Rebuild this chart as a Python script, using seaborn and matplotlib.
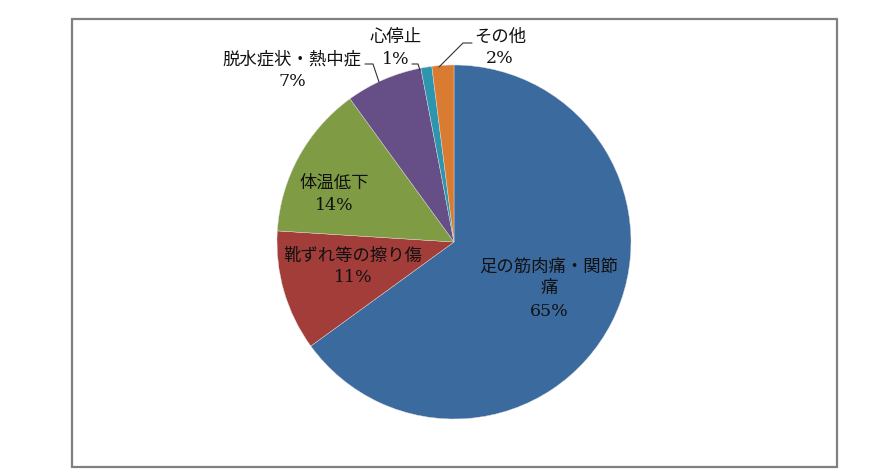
import matplotlib
matplotlib.use("Agg")
import matplotlib.pyplot as plt
import seaborn as sns

categories = ["足の筋肉痛・関節\n痛", "靴ずれ等の擦り傷", "体温低下", "脱水症状・熱中症", "心停止", "その他"]
values = [65, 11, 14, 7, 1, 2]
colors = ["#3B6A9F", "#A23D3A", "#7F9B43", "#654F86", "#2E95AE", "#D97B30"]

sns.set_theme(style="white")
plt.rcParams['font.family'] = ['DejaVu Serif', 'Noto Sans CJK JP']

W, H = 885, 473
fig = plt.figure(figsize=(W / 100, H / 100), dpi=100)
ax = fig.add_axes([0, 0, 1, 1])

cx, cy, r = 454, H - 242, 177
ax.pie(values, colors=colors, startangle=90, counterclock=False,
       center=(cx, cy), radius=r,
       wedgeprops=dict(linewidth=0.3, edgecolor="#dddddd"), frame=True)
ax.set_xlim(0, W)
ax.set_ylim(0, H)
ax.set_aspect('equal')
ax.axis('off')

# border
ax.add_patch(plt.Rectangle((72, H - 467), 837 - 72, 467 - 19, fill=False,
                           edgecolor="#808080", linewidth=1.6, zorder=0))

# label positions (pixel coordinates of the label centers: name line, percent line)
label_pos = [(549, 267), (353, 256), (334, 183), (292, 60), (396, 38), (500, 37)]
fs = 12.5
for name, v, (x, y) in zip(categories, values, label_pos):
    lines = name.split("\n")
    for i, ln in enumerate(lines):
        ax.text(x, H - (y + 22 * i), ln, ha="center", va="center", fontsize=fs, color="#111111")
    ax.text(x, H - (y + 22 * len(lines)), f"{v}%", ha="center", va="center",
            fontsize=fs, color="#111111")

# leader lines
leaders = [
    [(365, 64), (373, 64), (379, 82)],
    [(412, 64), (418, 64), (420, 70)],
    [(472, 43), (463, 43), (439, 67)],
]
for pts in leaders:
    ax.plot([p[0] for p in pts], [H - p[1] for p in pts], color="#333333", linewidth=0.8)

fig.savefig("out.png", dpi=100)
